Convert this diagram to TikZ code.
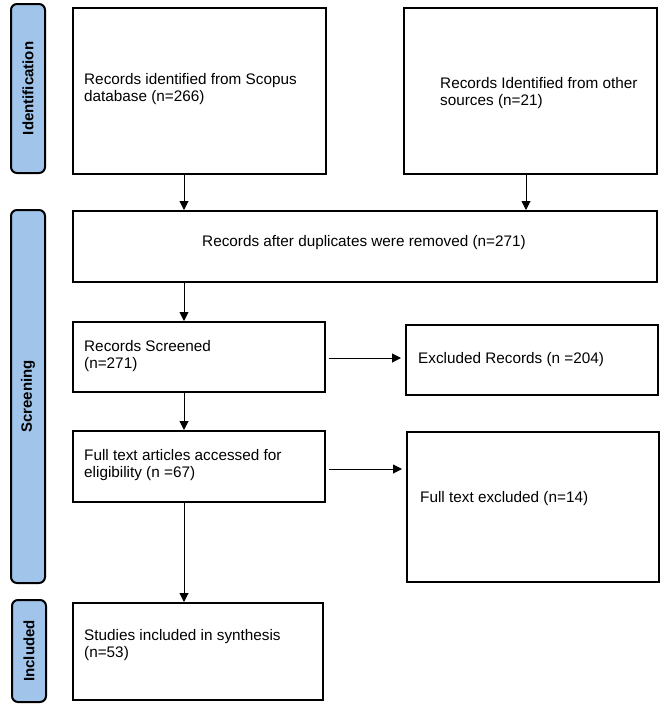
\documentclass[tikz,border=0pt]{standalone}
\usepackage{fontspec}
\setmainfont{Liberation Sans}
\usetikzlibrary{arrows.meta}
\definecolor{lblblue}{RGB}{160,196,234}
\begin{document}
\begin{tikzpicture}[x=1pt,y=-1pt,
  every node/.style={font=\fontsize{15.3}{17.6}\selectfont},
  box/.style={draw=black,line width=1.6pt,anchor=north west,inner sep=0pt},
  txt/.style={anchor=west,align=left,inner sep=0pt},
  lbl/.style={draw=black,line width=2pt,fill=lblblue,rounded corners=6pt,rotate=90,
    font=\fontsize{15}{17}\selectfont\bfseries,inner sep=0pt,minimum height=34pt},
  arr/.style={line width=1pt,-{Triangle[length=9pt,width=9pt]}}]
\useasboundingbox (0,0) rectangle (661,707);
% phase labels
\node[lbl,minimum width=169pt] (lid) at (28,88.5) {Identification};
\node[lbl,minimum width=373pt] (lsc) at (28,396.5) {Screening};
\node[lbl,minimum width=102pt] (lin) at (29,651) {Included};
% boxes
\node[box,minimum width=253pt,minimum height=166pt] (b1) at (72,7) {};
\node[box,minimum width=253pt,minimum height=166pt] (b2) at (403,7) {};
\node[box,minimum width=584pt,minimum height=71pt] (b3) at (72,210) {};
\node[box,minimum width=252pt,minimum height=70pt] (b4) at (72,321) {};
\node[box,minimum width=252pt,minimum height=70pt] (b5) at (405,324) {};
\node[box,minimum width=252pt,minimum height=71pt] (b6) at (72,430) {};
\node[box,minimum width=252pt,minimum height=150pt] (b7) at (406,431) {};
\node[box,minimum width=250pt,minimum height=97pt] (b8) at (72,602) {};
% texts
\node[txt] (t1) at (84,89) {Records identified from Scopus\\database (n=266)};
\node[txt] (t2) at (440,93) {Records Identified from other\\sources (n=21)};
\node[inner sep=0pt] (t3) at (364,243) {Records after duplicates were removed (n=271)};
\node[txt] (t4) at (84,356) {Records Screened\\(n=271)};
\node[txt] (t5) at (418,360) {Excluded Records (n =204)};
\node[txt] (t6) at (84,465) {Full text articles accessed for\\eligibility (n =67)};
\node[txt] (t7) at (420,499) {Full text excluded (n=14)};
\node[txt] (t8) at (84,645) {Studies included in synthesis\\(n=53)};
% connectors
\coordinate (cl) at (184,0);
\coordinate (cr) at (526,0);
\coordinate (ya) at (0,358);
\coordinate (yb) at (0,469);
\draw[arr] (b1.south -| cl) -- (b3.north -| cl);
\draw[arr] (b2.south -| cr) -- (b3.north -| cr);
\draw[arr] (b3.south -| cl) -- (b4.north -| cl);
\draw[arr] (b4.south -| cl) -- (b6.north -| cl);
\draw[arr] (b6.south -| cl) -- (b8.north -| cl);
\draw[arr,shorten <=3pt,shorten >=4pt] (b4.east |- ya) -- (b5.west |- ya);
\draw[arr,shorten <=3pt,shorten >=4pt] (b6.east |- yb) -- (b7.west |- yb);
\end{tikzpicture}
\end{document}
